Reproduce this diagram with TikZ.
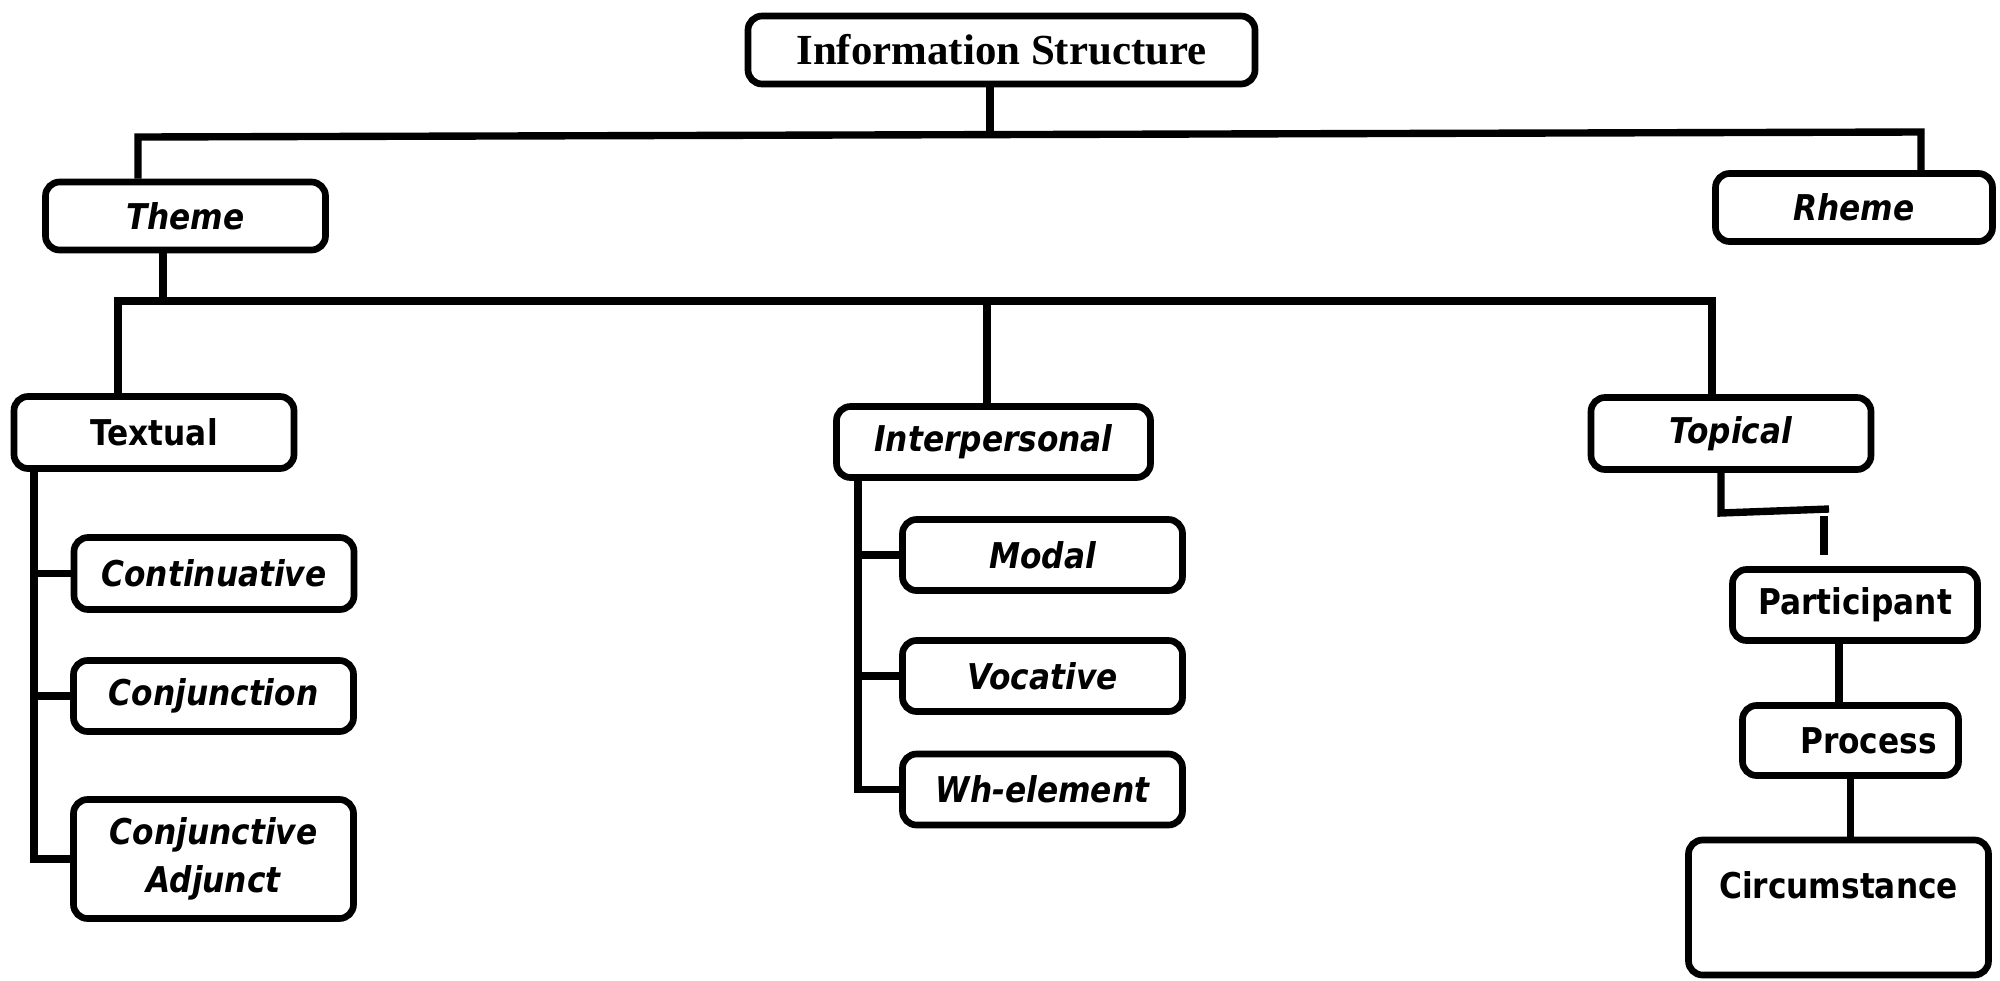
\documentclass[tikz,border=0pt]{standalone}
\usepackage{fontspec}
\setmainfont{Liberation Serif}
\newfontfamily\thmsans[FakeStretch=0.88]{DejaVu Sans}
\usetikzlibrary{calc}
\tikzset{
  thm/box/.style={
    draw=black,
    line width=1.9pt,
    rounded corners=4pt,
    fill=white,
    align=center,
    text=black,
    minimum width=2.8cm,
    minimum height=0.68cm,
    inner xsep=2pt,
    inner ysep=2pt,
    font=\thmsans\fontsize{10.1}{13.6}\selectfont\bfseries
  },
  thm/ital/.style={
    thm/box,
    font=\thmsans\fontsize{10.1}{13.6}\selectfont\bfseries\itshape
  },
  thm/title/.style={
    thm/box,
    font=\fontsize{12.2}{14}\selectfont\bfseries
  },
  thm/link/.style={line width=2.1pt, draw=black}
}

\begin{document}
\begin{tikzpicture}[x=1cm,y=1cm]
  \useasboundingbox (0,0) rectangle (20,9.8);

  % top level
  \node[thm/title,minimum width=5.07cm] (info) at (10.015,9.30) {Information Structure};
  \node[thm/ital] (theme) at (1.855,7.64) {Theme};
  \node[thm/ital,minimum width=2.77cm] (rheme) at (18.54,7.725) {Rheme};

  % theme types
  \node[thm/box,minimum height=0.72cm] (textual) at (1.54,5.475) {Textual};
  \node[thm/ital,minimum width=3.14cm,minimum height=0.71cm] (interp) at (9.935,5.38) {Interpersonal};
  \node[thm/ital,minimum height=0.72cm] (topical) at (17.31,5.465) {Topical};

  % textual
  \node[thm/ital,minimum height=0.72cm] (contin) at (2.14,4.065) {Continuative};
  \node[thm/ital,minimum height=0.71cm] (conj) at (2.135,2.84) {Conjunction};
  \node[thm/ital,minimum height=1.19cm] (conjadj) at (2.135,1.21) {Conjunctive\\Adjunct};

  % interpersonal
  \node[thm/ital,minimum height=0.71cm] (modal) at (10.425,4.25) {Modal};
  \node[thm/ital,minimum height=0.71cm] (vocat) at (10.425,3.04) {Vocative};
  \node[thm/ital,minimum height=0.71cm] (whel) at (10.425,1.905) {Wh-element};

  % topical
  \node[thm/box,minimum width=2.45cm,minimum height=0.71cm] (partic) at (18.55,3.75) {Participant};
  \node[thm/box,minimum width=2.16cm,minimum height=0.70cm] (process) at (18.505,2.395) {\hspace*{3.6mm}Process};
  \node[thm/box,minimum width=3.0cm,minimum height=1.35cm,text height=0.3cm,text depth=0.49cm,inner ysep=0.28cm] (circ) at (18.385,0.725) {Circumstance};

  % tree lines
  \coordinate (st) at (9.9,8.455);
  \coordinate (lt) at (1.38,8.43);
  \coordinate (rt) at (19.21,8.48);
  \draw[thm/link] (info.south -| st) -- (st);
  \draw[thm/link] (theme.north -| lt) -- (lt) -- (rt) -- (rheme.north -| rt);

  \coordinate (th) at (1.63,6.79);
  \coordinate (bl) at (1.18,6.79);
  \coordinate (bm) at (9.87,6.79);
  \coordinate (br) at (17.12,6.79);
  \draw[thm/link] (theme.south -| th) -- (th);
  \draw[thm/link] (textual.north -| bl) -- (bl) -- (br) -- (topical.north -| br);
  \draw[thm/link] (bm) -- (interp.north -| bm);

  \coordinate (tx) at (0.34,0);
  \draw[thm/link] (textual.south -| tx) -- (tx |- conjadj.west) -- (conjadj.west);
  \draw[thm/link] (tx |- contin.west) -- (contin.west);
  \draw[thm/link] (tx |- conj.west) -- (conj.west);

  \coordinate (ix) at (8.58,0);
  \draw[thm/link] (interp.south -| ix) -- (ix |- whel.west) -- (whel.west);
  \draw[thm/link] (ix |- modal.west) -- (modal.west);
  \draw[thm/link] (ix |- vocat.west) -- (vocat.west);

  \coordinate (tp) at (17.21,4.67);
  \coordinate (tq) at (18.29,4.71);
  \coordinate (ts) at (18.24,4.64);
  \coordinate (te) at (18.24,4.25);
  \draw[thm/link] (topical.south -| tp) -- (tp) -- (tq);
  \draw[thm/link] (ts) -- (te);
  \draw[thm/link] ([xshift=-1.6mm]partic.south) -- ([xshift=-1.6mm]partic.south |- process.north);
  \draw[thm/link] (process.south) -- (circ.north -| process.south);
\end{tikzpicture}
\end{document}
